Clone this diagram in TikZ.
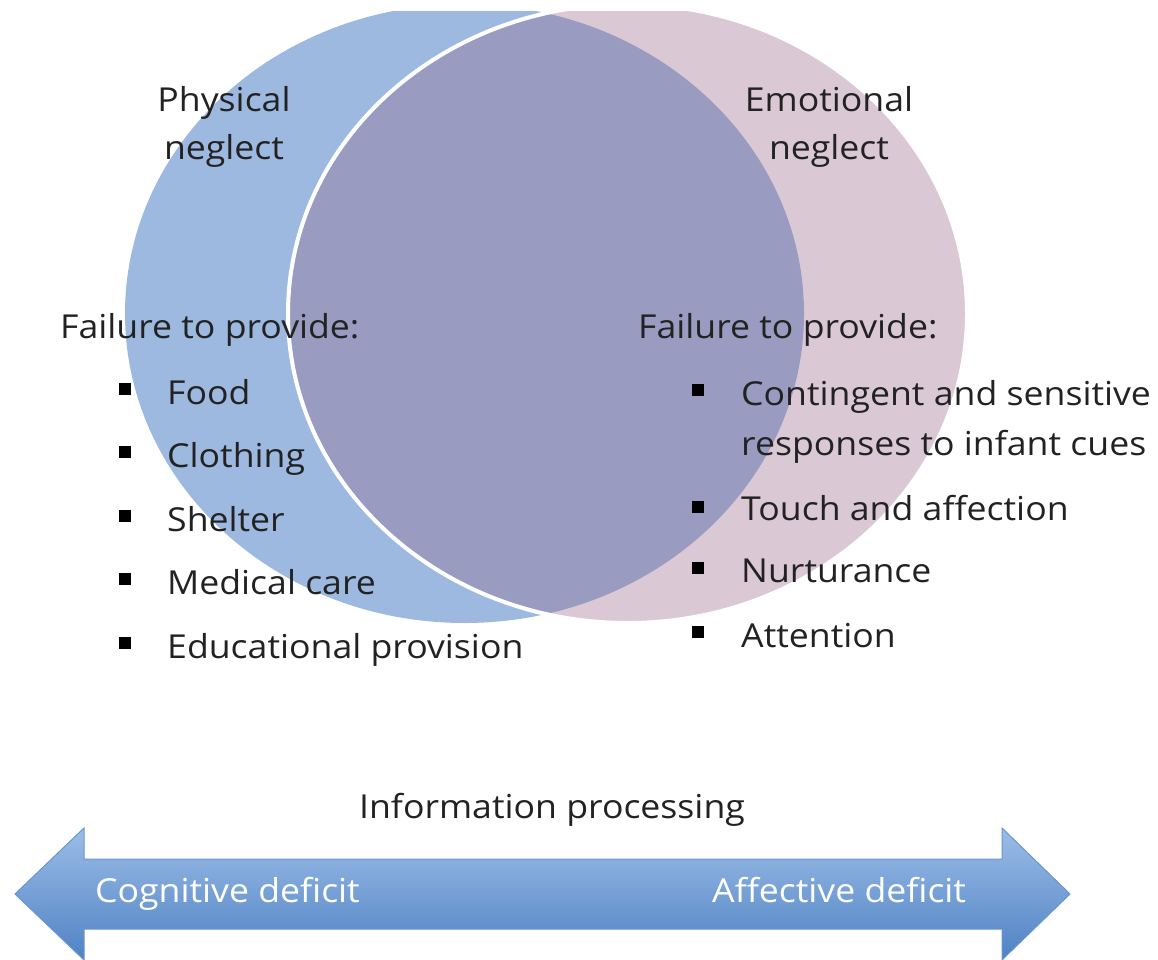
\documentclass[tikz,border=0pt]{standalone}
\usepackage{fontspec}
\setmainfont{Open Sans}[FakeStretch=1.08]
\usetikzlibrary{shadings}
\definecolor{vblue}{HTML}{9DB9E0}
\definecolor{vpink}{HTML}{DAC9D5}
\definecolor{vmix}{HTML}{999BC1}
\definecolor{txt}{HTML}{222222}
\definecolor{arrtop}{HTML}{9CBDE7}
\definecolor{arrmid}{HTML}{82AADD}
\definecolor{arrbot}{HTML}{4F82C4}
\definecolor{arrline}{HTML}{6A96CF}
\begin{document}
\begin{tikzpicture}[x=1pt,y=-1pt,
  lbl/.style={font=\fontsize{33}{48}\selectfont, text=txt, inner sep=0pt},
  item/.style={lbl, anchor=base west},
  bul/.style={fill=black, minimum size=12pt, inner sep=0pt, draw=none},
  circ/.style={x radius=339.5, y radius=309.4}]
\useasboundingbox (0,0) rectangle (1158,960);
\begin{scope}
  \clip (0,12) rectangle (1158,960);
  \fill[vblue] (464.5,313.6) ellipse [circ];
  \fill[vpink] (627.5,313.6) ellipse [circ];
  \begin{scope}
    \clip (464.5,313.6) ellipse [circ];
    \fill[vmix] (627.5,313.6) ellipse [circ];
  \end{scope}
  \draw[white, line width=4pt] (627.5,313.6) ellipse [circ];
\end{scope}
% titles (base anchor = baseline of the last line)
\node[lbl, align=center, anchor=base] (phys) at (224,160) {Physical\\neglect};
\node[lbl, align=center, anchor=base] (emot) at (829,160) {Emotional\\neglect};
% left list
\node[item] (lfail) at (60,338) {Failure to provide:};
\node[bul] (lb1) at (125,389) {};
\node[item] (l1) at (167,404) {Food};
\node[bul] (lb2) at (125,452) {};
\node[item] (l2) at (167,467) {Clothing};
\node[bul] (lb3) at (125,516) {};
\node[item] (l3) at (167,531) {Shelter};
\node[bul] (lb4) at (125,579) {};
\node[item] (l4) at (167,594) {Medical care};
\node[bul] (lb5) at (125,643) {};
\node[item] (l5) at (167,658) {Educational provision};
% right list
\node[item] (rfail) at (638,338) {Failure to provide:};
\node[bul] (rb1) at (698,390) {};
\node[item, align=left, font=\fontsize{33}{50}\selectfont] (r1) at (741,455) {Contingent and sensitive\\responses to infant cues};
\node[bul] (rb2) at (698,507) {};
\node[item] (r2) at (741,520) {Touch and affection};
\node[bul] (rb3) at (698,568) {};
\node[item] (r3) at (741,582) {Nurturance};
\node[bul] (rb4) at (698,632) {};
\node[item] (r4) at (741,647) {Attention};
% arrow
\node[lbl, anchor=base] (info) at (552,818) {Information processing};
\draw[arrline, line width=1pt, top color=arrtop, middle color=arrmid, bottom color=arrbot]
  (15,894) -- (84,828) -- (84,859) -- (1002,859) -- (1002,828) -- (1070,894)
  -- (1002,960) -- (1002,929) -- (84,929) -- (84,960) -- cycle;
\node[item, text=white] (cog) at (95,902) {Cognitive deficit};
\node[item, text=white] (aff) at (712,902) {Affective deficit};
\end{tikzpicture}
\end{document}
